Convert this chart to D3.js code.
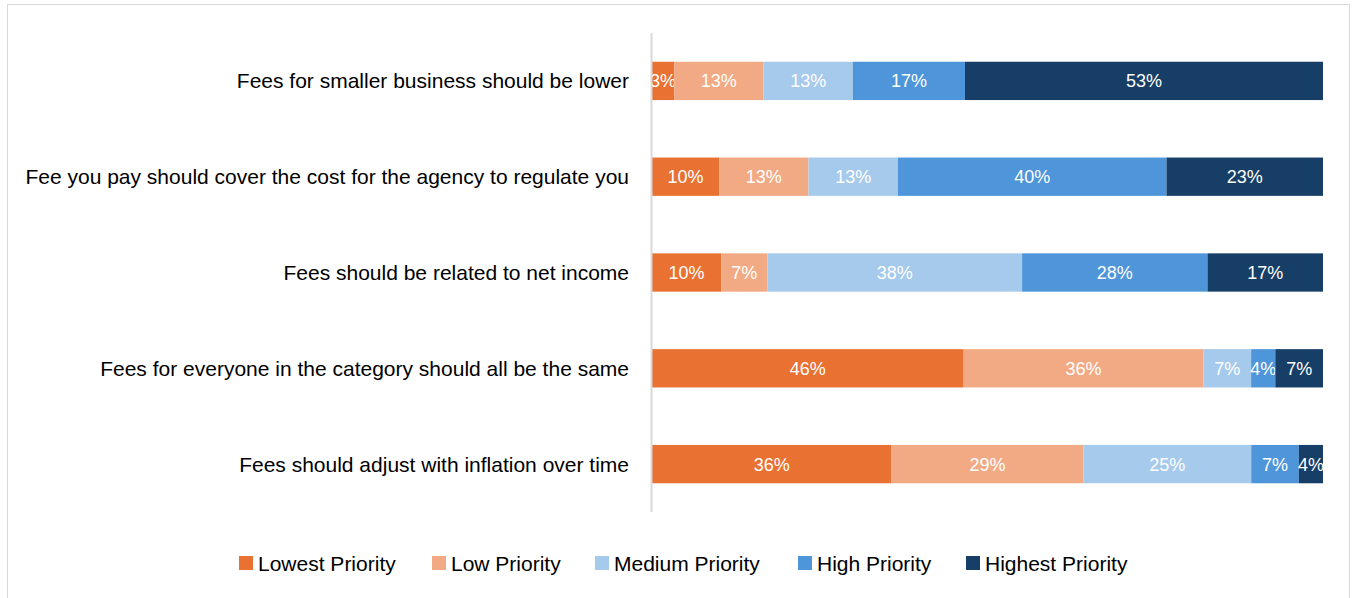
<!DOCTYPE html>
<html><head><meta charset="utf-8">
<script src="https://cdn.jsdelivr.net/npm/d3@7"></script>
<style>
html,body{margin:0;padding:0;background:#fff;}
svg{display:block;}
</style></head>
<body>
<svg id="chart" width="1353" height="598"></svg>
<script>
const categories = [
  "Fees for smaller business should be lower",
  "Fee you pay should cover the cost for the agency to regulate you",
  "Fees should be related to net income",
  "Fees for everyone in the category should all be the same",
  "Fees should adjust with inflation over time"
];
const seriesNames = ["Lowest Priority","Low Priority","Medium Priority","High Priority","Highest Priority"];
const lowest  = [3.3, 10.0, 10.3, 46.4, 35.7];
const low     = [13.3, 13.3, 6.9, 35.7, 28.6];
const medium  = [13.3, 13.3, 37.9, 7.1, 25.0];
const high    = [16.7, 40.0, 27.6, 3.6, 7.1];
const highest = [53.3, 23.3, 17.2, 7.1, 3.6];
const colors = ["#E97132","#F2AA84","#A6CAEC","#4E95D9","#173E66"];

const rows = categories.map((c,i)=>({cat:c,
  "Lowest Priority":lowest[i],"Low Priority":low[i],"Medium Priority":medium[i],
  "High Priority":high[i],"Highest Priority":highest[i]}));
rows.forEach(r=>{r.total=d3.sum(seriesNames,k=>r[k]);});
const stacked = d3.stack().keys(seriesNames).value((d,k)=>d[k]/d.total*100)(rows);

const svg = d3.select("#chart");
// chart border
svg.append("rect").attr("x",7.5).attr("y",4.5).attr("width",1342).attr("height",600)
  .attr("fill","#fff").attr("stroke","#D9D9D9").attr("stroke-width",1);

const x = d3.scaleLinear().domain([0,100]).range([652,1323]);
const y = d3.scaleBand().domain(categories).range([33,512]).paddingInner(0.6).paddingOuter(0.3);

const g = svg.append("g");
stacked.forEach((s,si)=>{
  const gs = g.append("g").attr("fill",colors[si]);
  gs.selectAll("rect").data(s).join("rect")
    .attr("x",d=>x(d[0])).attr("width",d=>x(d[1])-x(d[0]))
    .attr("y",d=>y(d.data.cat)).attr("height",y.bandwidth());
  g.append("g").selectAll("text").data(s).join("text")
    .attr("x",d=>(x(d[0])+x(d[1]))/2)
    .attr("y",d=>y(d.data.cat)+y.bandwidth()/2)
    .attr("dy","0.36em").attr("text-anchor","middle")
    .attr("fill","#fff").attr("font-family","Liberation Sans, Arial, sans-serif")
    .attr("font-size",18)
    .text(d=>Math.round(d.data[s.key])+"%");
});

// axis line
svg.append("line").attr("x1",651.5).attr("x2",651.5).attr("y1",33).attr("y2",512)
  .attr("stroke","#D9D9D9").attr("stroke-width",2);

// category labels
const yAxis = svg.append("g").attr("transform","translate(629,0)")
  .call(d3.axisLeft(y).tickSize(0).tickPadding(0));
yAxis.select(".domain").remove();
yAxis.selectAll("text").attr("font-family","Liberation Sans Narrow, Arial Narrow, sans-serif")
  .attr("font-size",21).attr("fill","#000").attr("dy","0.36em");

// legend
const legendX = [239,432,595,798,966];
const leg = svg.append("g");
seriesNames.forEach((n,i)=>{
  leg.append("rect").attr("x",legendX[i]).attr("y",556).attr("width",14).attr("height",14).attr("fill",colors[i]);
  leg.append("text").attr("x",legendX[i]+19).attr("y",563).attr("dy","0.36em")
    .attr("font-family","Liberation Sans Narrow, Arial Narrow, sans-serif").attr("font-size",21)
    .attr("fill","#000").text(n);
});
</script>
</body></html>
